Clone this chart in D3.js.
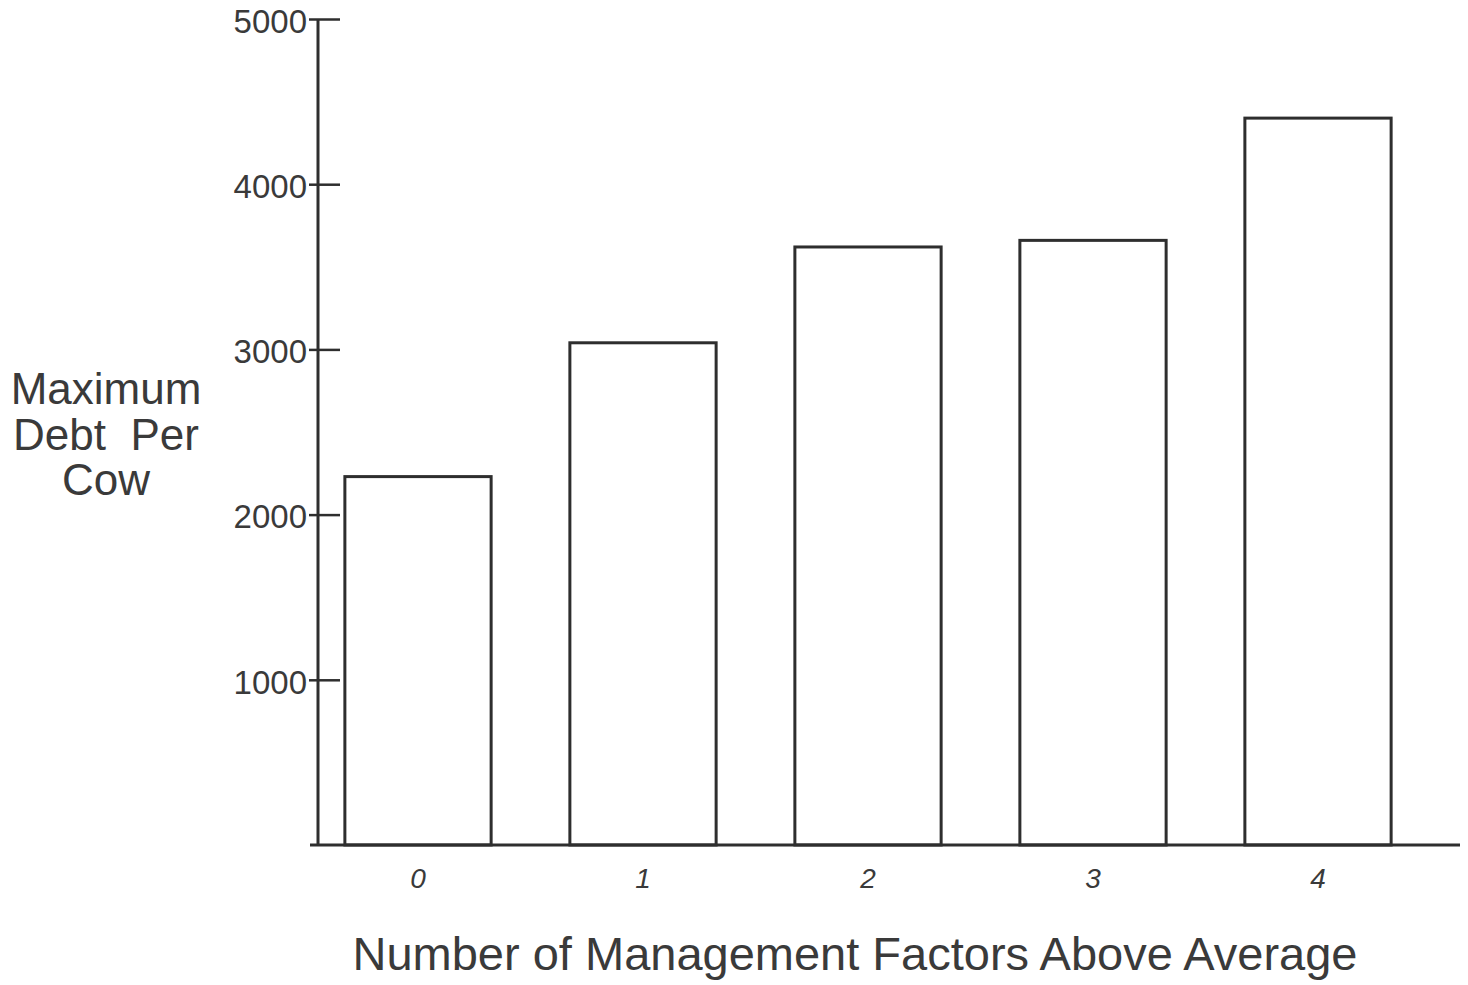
<!DOCTYPE html>
<html>
<head>
<meta charset="utf-8">
<script src="https://cdn.jsdelivr.net/npm/d3@7"></script>
<style>
  html, body { margin: 0; padding: 0; background: #fff; }
  svg { display: block; }
  text { font-family: "Liberation Sans", Arial, sans-serif; fill: #3a3a3a; }
</style>
</head>
<body>
<svg id="chart" width="1468" height="985"></svg>
<script>
const categories = ["0", "1", "2", "3", "4"];
const debtPerCow = [2230, 3040, 3620, 3660, 4400];
const yTickValues = [1000, 2000, 3000, 4000, 5000];
const yTitleLines = ["Maximum", "Debt  Per", "Cow"];
const xTitle = "Number of Management Factors Above Average";

const svg = d3.select("#chart");
const ink = "#2e2e2e";

const y = d3.scaleLinear().domain([0, 5000]).range([845, 19]);
const x = d3.scaleBand().domain(categories).range([305.5, 1430.5])
  .paddingInner(0.35).paddingOuter(0.175);

const axisX = 318;

// bars
svg.append("g").selectAll("rect")
  .data(categories.map((c, i) => ({ c, v: debtPerCow[i] })))
  .join("rect")
  .attr("x", d => x(d.c))
  .attr("y", d => y(d.v))
  .attr("width", x.bandwidth())
  .attr("height", d => y(0) - y(d.v))
  .attr("fill", "none")
  .attr("stroke", ink)
  .attr("stroke-width", 3);

// baseline
svg.append("line")
  .attr("x1", 310).attr("x2", 1460)
  .attr("y1", y(0)).attr("y2", y(0))
  .attr("stroke", ink).attr("stroke-width", 3);

// y axis
const yAxis = d3.axisLeft(y).tickValues(yTickValues).tickSize(0).tickPadding(10)
  .tickFormat(d3.format("d"));
const gy = svg.append("g").attr("transform", `translate(${axisX},0)`).call(yAxis);
gy.select(".domain").remove();
gy.append("line").attr("x1", 0).attr("x2", 0).attr("y1", y(5000)).attr("y2", y(0))
  .attr("stroke", ink).attr("stroke-width", 3);
gy.selectAll(".tick").append("line")
  .attr("x1", -9).attr("x2", 22)
  .attr("stroke", ink).attr("stroke-width", 2.5);
gy.selectAll(".tick text")
  .attr("x", -11)
  .attr("dy", "0.4em")
  .style("font-size", "33px")
  .style("fill", "#3a3a3a");

// x axis labels
const xAxis = d3.axisBottom(x).tickSize(0).tickPadding(0);
const gx = svg.append("g").attr("transform", `translate(0,${y(0)})`).call(xAxis);
gx.select(".domain").remove();
gx.selectAll(".tick text")
  .attr("y", 43)
  .attr("dy", 0)
  .style("font-size", "28px")
  .style("font-style", "italic")
  .style("fill", "#3a3a3a");

// y title (one text per line)
svg.append("g").selectAll("text")
  .data(yTitleLines)
  .join("text")
  .attr("x", 106)
  .attr("y", (d, i) => 404 + i * 45.5)
  .attr("text-anchor", "middle")
  .attr("xml:space", "preserve")
  .style("white-space", "pre")
  .style("font-size", "44px")
  .text(d => d);

// x title
svg.append("text")
  .attr("x", 855)
  .attr("y", 970)
  .attr("text-anchor", "middle")
  .style("font-size", "47px")
  .text(xTitle);
</script>
</body>
</html>
